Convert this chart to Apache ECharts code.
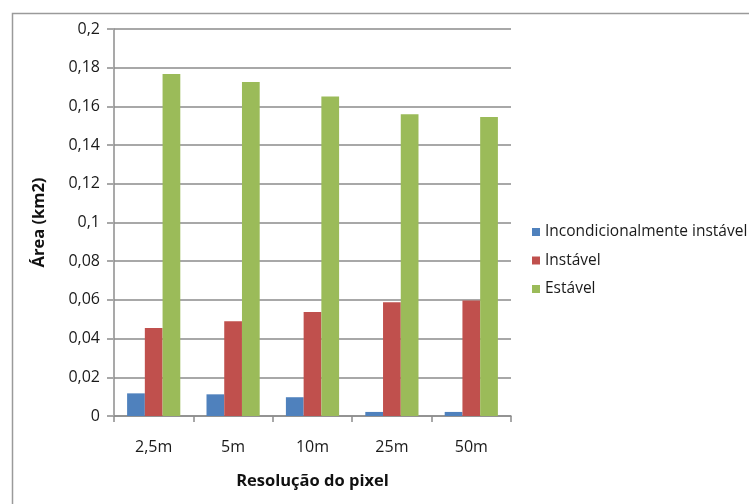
<!DOCTYPE html>
<html>
<head>
<meta charset="utf-8">
<script src="https://cdn.jsdelivr.net/npm/echarts@6/dist/echarts.min.js"></script>
<style>
  html, body { margin: 0; padding: 0; background: #fff; }
  #chart { width: 749px; height: 504px; }
</style>
</head>
<body>
<div id="chart"></div>
<script>
// Pixel resolutions compared
const categories = ['2,5m', '5m', '10m', '25m', '50m'];

// Area per stability class (km²)
const incondicionalmenteInstavel = [0.0117, 0.0112, 0.0097, 0.0021, 0.0021];
const instavel = [0.0455, 0.0490, 0.0538, 0.0588, 0.0597];
const estavel = [0.1767, 0.1726, 0.1651, 0.1560, 0.1545];

const seriesNames = ['Incondicionalmente instável', 'Instável', 'Estável'];
const seriesColors = ['#4F81BD', '#C0504D', '#9BBB59'];

const FONT = '"Open Sans", "Noto Sans", sans-serif';
const gridGray = '#a8a8a8';

const chart = echarts.init(document.getElementById('chart'));

function fmt(v) {
  return String(parseFloat(v.toFixed(4))).replace('.', ',');
}

const option = {
  backgroundColor: '#ffffff',
  animation: false,
  graphic: [{
    type: 'rect',
    left: 10, top: 11,
    shape: { width: 760, height: 520 },
    style: { fill: 'none', stroke: '#9a9a9a', lineWidth: 1.5 },
    silent: true
  }],
  grid: { left: 114, right: 238, top: 29, bottom: 88 },
  legend: {
    orient: 'vertical',
    left: 532,
    top: 223,
    padding: 0,
    itemWidth: 8,
    itemHeight: 8,
    itemGap: 10.5,
    icon: 'rect',
    textStyle: { fontFamily: FONT, fontSize: 15.5, color: '#1a1a1a', lineHeight: 18 },
    data: seriesNames
  },
  xAxis: {
    type: 'category',
    data: categories,
    name: 'Resolução do pixel',
    nameLocation: 'middle',
    nameGap: 57,
    nameTextStyle: { fontFamily: FONT, fontSize: 16.5, fontWeight: 'bold', color: '#111' },
    axisLine: { lineStyle: { color: '#8c8c8c', width: 1.5 } },
    axisTick: { show: true, length: 6, lineStyle: { color: '#8c8c8c', width: 1.5 } },
    axisLabel: { fontFamily: FONT, fontSize: 16, color: '#1a1a1a', margin: 23 },
    splitLine: { show: false }
  },
  yAxis: {
    type: 'value',
    min: 0,
    max: 0.2,
    interval: 0.02,
    name: 'Área (km2)',
    nameLocation: 'middle',
    nameGap: 66,
    nameTextStyle: { fontFamily: FONT, fontSize: 16.5, fontWeight: 'bold', color: '#111' },
    axisLine: { show: true, lineStyle: { color: '#8c8c8c', width: 1.5 } },
    axisTick: { show: true, length: 7, lineStyle: { color: gridGray, width: 2 } },
    axisLabel: { fontFamily: FONT, fontSize: 16, color: '#1a1a1a', margin: 14, formatter: fmt },
    splitLine: { show: true, lineStyle: { color: gridGray, width: 2 } }
  },
  series: [
    { name: seriesNames[0], type: 'bar', data: incondicionalmenteInstavel, itemStyle: { color: seriesColors[0] }, barGap: '0%', barCategoryGap: '33%' },
    { name: seriesNames[1], type: 'bar', data: instavel, itemStyle: { color: seriesColors[1] }, barGap: '0%', barCategoryGap: '33%' },
    { name: seriesNames[2], type: 'bar', data: estavel, itemStyle: { color: seriesColors[2] }, barGap: '0%', barCategoryGap: '33%' }
  ]
};

chart.setOption(option);
</script>
</body>
</html>
